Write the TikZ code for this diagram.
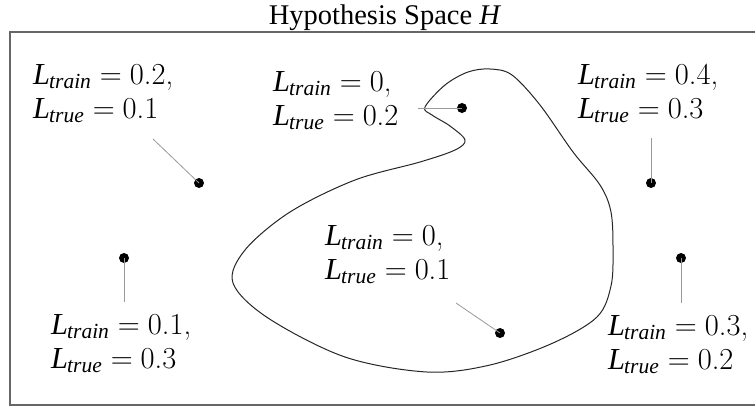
\documentclass[tikz,border=0pt]{standalone}
\usepackage{fontspec}
\setmainfont{Liberation Serif}
\newfontfamily\lmr{Latin Modern Roman}
\begin{document}
\begin{tikzpicture}[x=1pt,y=-1pt,
  lbl/.style={anchor=base west,align=left,inner sep=0pt,font=\fontsize{30.5}{34}\selectfont},
  dot/.style={circle,fill=black,inner sep=0pt,minimum size=10pt},
  lead/.style={draw=gray!80,line width=0.8pt},
  frame/.style={draw=black!60,line width=1.4pt},
  blob/.style={draw=black!85,line width=1pt}]
\useasboundingbox (0,0) rectangle (755,410);
\draw[frame] (10,32) rectangle (770,405);
\node[anchor=base,inner sep=0pt,font=\fontsize{28.5}{32}\selectfont] (title) at (385,24) {Hypothesis Space \textit{H}};
\newcommand{\LL}[2]{\textit{L}\kern-1pt\raisebox{-4.5pt}{\fontsize{21.5}{21.5}\selectfont\itshape #1}\hspace{9pt}{\lmr =\hspace{8pt}#2}}
% blob
\draw[blob] plot[smooth cycle,tension=0.55] coordinates {
 (425,107) (445,85) (468,72) (490,69) (512,75) (540,105) (573,152) (600,185) (611,212)
 (613,250) (611,286) (597,317) (553,343) (490,365) (427,372) (345,357) (268,318) (233,283)
 (245,250) (290,212) (355,180) (420,162) (455,150) (465,140) (450,126) (432,115)};
% labels (anchor at baseline of the last line)
\node[lbl] (l1) at (33,118) {\LL{train}{0.2,}\\\LL{true}{0.1}};
\node[lbl] (l2) at (51,368) {\LL{train}{0.1,}\\\LL{true}{0.3}};
\node[lbl] (l3) at (273,125) {\LL{train}{0,}\\\LL{true}{0.2}};
\node[lbl] (l4) at (578,118) {\LL{train}{0.4,}\\\LL{true}{0.3}};
\node[lbl] (l5) at (608,369) {\LL{train}{0.3,}\\\LL{true}{0.2}};
\node[lbl] (l6) at (325,279) {\LL{train}{0,}\\\LL{true}{0.1}};
% dots
\node[dot] (d1) at (199,183) {};
\node[dot] (d2) at (124,258) {};
\node[dot] (d3) at (462,108) {};
\node[dot] (d4) at (651,183) {};
\node[dot] (d5) at (681,258) {};
\node[dot] (d6) at (500,333) {};
\coordinate (c1) at (153,139);
\coordinate (c2) at (124,302);
\coordinate (c3) at (418,108);
\coordinate (c4) at (651,138);
\coordinate (c5) at (681,303);
\coordinate (c6) at (456,303);
\foreach \i in {1,...,6} \draw[lead] (c\i) -- (d\i.center);
\end{tikzpicture}
\end{document}
